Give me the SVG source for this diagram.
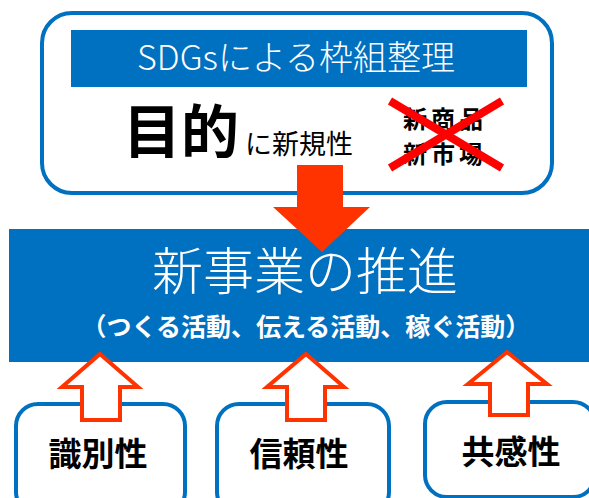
<svg xmlns="http://www.w3.org/2000/svg" width="589" height="498" viewBox="0 0 589 498">
<style>
.t{font-family:"Noto Sans CJK JP","Noto Sans",sans-serif}
.box{fill:#fff;stroke:#0070C0;stroke-width:4}
.blue{fill:#0070C0}
.up{fill:#fff;stroke:#FF3300;stroke-width:4;stroke-linejoin:miter}
</style>
<rect width="589" height="498" fill="#fff"/>
<g id="top">
<rect class="box" x="42" y="13" width="510" height="180" rx="30"/>
<rect class="blue" x="71" y="30" width="456" height="57"/>
<text class="t" x="296" y="70" font-size="34" font-weight="300" fill="#fff" text-anchor="middle">SDGsによる枠組整理</text>
<text class="t" x="123" y="153" font-size="58" font-weight="bold" fill="#000">目的</text>
<text class="t" x="245" y="154" font-size="27" fill="#000">に新規性</text>
<text class="t" x="403" y="128" font-size="24" font-weight="bold" letter-spacing="4" fill="#000">新商品</text>
<text class="t" x="403" y="163" font-size="24" font-weight="bold" letter-spacing="4" fill="#000">新市場</text>
<path d="M390,101 L502,168 M502,101 L390,168" stroke="#FF0000" stroke-width="8"/>
</g>
<g id="main">
<rect class="blue" x="9" y="229" width="580" height="133"/>
<text class="t" x="305" y="290" font-size="51" font-weight="300" fill="#fff" text-anchor="middle">新事業の推進</text>
<text class="t" x="306" y="336" font-size="25" font-weight="bold" fill="#fff" text-anchor="middle">（つくる活動、伝える活動、稼ぐ活動）</text>
</g>
<g id="b1">
<rect class="box" x="16" y="404" width="169" height="110" rx="22"/>
<text class="t" x="98" y="466" font-size="33" font-weight="bold" fill="#000" text-anchor="middle">識別性</text>
</g>
<g id="b2">
<rect class="box" x="217" y="404" width="172" height="110" rx="22"/>
<text class="t" x="299" y="466" font-size="33" font-weight="bold" fill="#000" text-anchor="middle">信頼性</text>
</g>
<g id="b3">
<rect class="box" x="425" y="402" width="170" height="95" rx="22"/>
<text class="t" x="511" y="464" font-size="33" font-weight="bold" fill="#000" text-anchor="middle">共感性</text>
</g>
<g id="connectors">
<path d="M297,165 H343 V207 H370 L322,252 L273,207 H297 Z" fill="#FF3300"/>
<path class="up" d="M100,354 L138,387 H120 V420 H82 V387 H62 Z"/>
<path class="up" d="M306,354 L344,387 H325 V420 H287 V387 H267 Z"/>
<path class="up" d="M507,352 L547,384 H528 V415 H490 V384 H468 Z"/>
</g>
</svg>
